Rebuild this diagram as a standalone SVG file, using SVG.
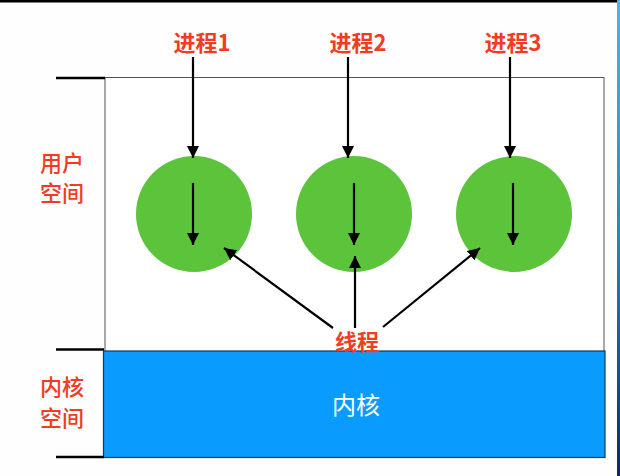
<svg xmlns="http://www.w3.org/2000/svg" width="620" height="476" viewBox="0 0 620 476">
  <defs>
    <marker id="ah" viewBox="0 0 10 10" refX="10" refY="5" markerWidth="5.5" markerHeight="5.5" markerUnits="strokeWidth" orient="auto">
      <path d="M0,0 L10,5 L0,10 Z" fill="#000"/>
    </marker>
    <linearGradient id="edge" x1="0" y1="0" x2="0" y2="1">
      <stop offset="0" stop-color="#4fb6dc"/>
      <stop offset="0.5" stop-color="#2a86b8"/>
      <stop offset="1" stop-color="#0c2a55"/>
    </linearGradient>
    <style>
      .red { fill: #f03c24; font-family: "Noto Sans CJK SC", "Liberation Sans", sans-serif; }
      .lbl { font-size: 22px; font-weight: bold; text-anchor: middle; }
      .side { font-size: 22px; font-weight: 500; text-anchor: middle; }
      .conn { stroke: #000; stroke-width: 2.2; fill: none; marker-end: url(#ah); }
      .tick { stroke: #000; stroke-width: 2.5; }
      .circ { fill: #5bc43a; }
    </style>
  </defs>
  <rect width="620" height="476" fill="#fdfefd"/>
  <rect x="0" y="0" width="617" height="2.5" fill="#000"/>
  <rect x="617" y="0" width="3" height="476" fill="url(#edge)"/>

  <g id="user-space">
    <rect x="105" y="77.5" width="499" height="275" fill="#fff" stroke="#555" stroke-width="1"/>
  </g>
  <g id="kernel">
    <rect x="103.5" y="351" width="501.5" height="106.5" fill="#0a9bff" stroke="#1d3550" stroke-width="1.2"/>
    <text x="356" y="414" font-family="Noto Sans CJK SC, Liberation Sans, sans-serif" font-size="24" fill="#fff" text-anchor="middle">内核</text>
  </g>

  <g id="ticks">
    <line class="tick" x1="56" y1="78" x2="105" y2="78"/>
    <line class="tick" x1="56" y1="349.5" x2="104" y2="349.5"/>
    <line class="tick" x1="56" y1="457" x2="104" y2="457"/>
  </g>

  <g id="label-user-space">
    <text class="red side" x="62" y="171">用户</text>
    <text class="red side" x="62" y="201">空间</text>
  </g>
  <g id="label-kernel-space">
    <text class="red side" x="62" y="395">内核</text>
    <text class="red side" x="62" y="426">空间</text>
  </g>

  <g id="process1">
    <text class="red lbl" x="202" y="51">进程1</text>
    <circle class="circ" cx="194" cy="214" r="58"/>
  </g>
  <g id="process2">
    <text class="red lbl" x="358" y="51">进程2</text>
    <circle class="circ" cx="354" cy="214" r="58"/>
  </g>
  <g id="process3">
    <text class="red lbl" x="513" y="51">进程3</text>
    <circle class="circ" cx="514" cy="214" r="58"/>
  </g>
  <g id="thread-label">
    <text class="red lbl" x="357" y="350">线程</text>
  </g>

  <g id="connectors">
    <line class="conn" x1="193" y1="57" x2="193" y2="158"/>
    <line class="conn" x1="348" y1="57" x2="348" y2="158"/>
    <line class="conn" x1="510" y1="57" x2="510" y2="158"/>
    <line class="conn" x1="193" y1="183" x2="193" y2="245"/>
    <line class="conn" x1="354" y1="183" x2="354" y2="245"/>
    <line class="conn" x1="513" y1="183" x2="513" y2="245"/>
    <line class="conn" x1="333" y1="328" x2="224" y2="248"/>
    <line class="conn" x1="355" y1="328" x2="355" y2="256"/>
    <line class="conn" x1="383" y1="327" x2="480" y2="248"/>
  </g>
</svg>
